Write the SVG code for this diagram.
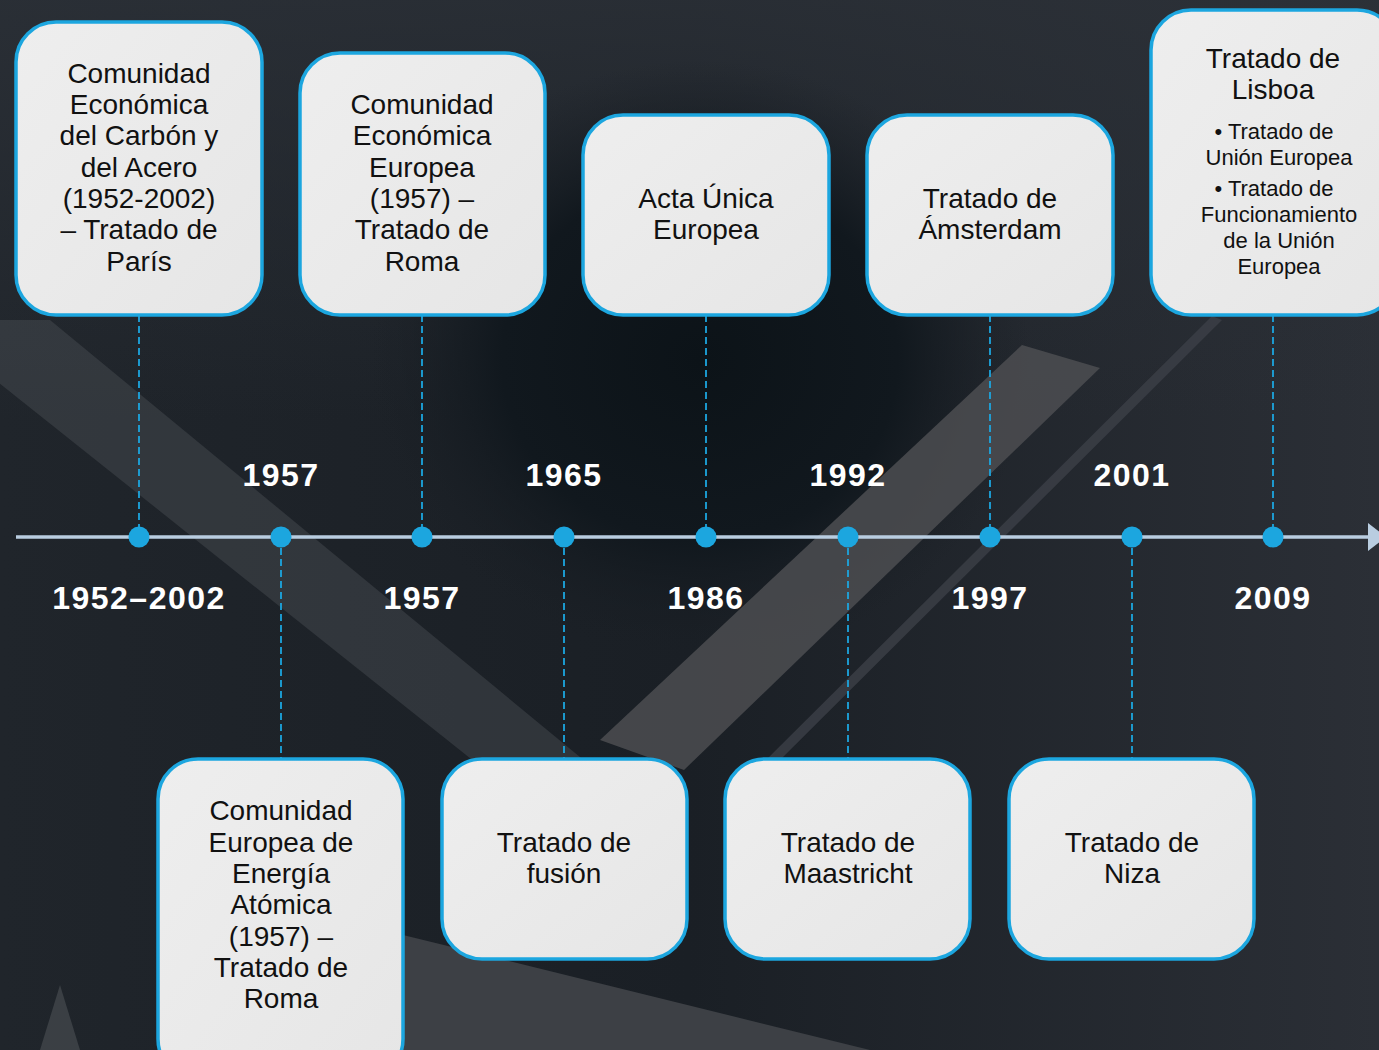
<svg xmlns="http://www.w3.org/2000/svg" width="1379" height="1050" viewBox="0 0 1379 1050">
<defs>
<linearGradient id="bg" x1="0" y1="0" x2="1" y2="0">
<stop offset="0" stop-color="#20252b"/>
<stop offset="0.5" stop-color="#1a1f25"/>
<stop offset="1" stop-color="#2b2f36"/>
</linearGradient>
<linearGradient id="topfade" x1="0" y1="0" x2="0" y2="1">
<stop offset="0" stop-color="#2c3138" stop-opacity="0.8"/>
<stop offset="1" stop-color="#2c3138" stop-opacity="0"/>
</linearGradient>
<radialGradient id="head" cx="0.5" cy="0.5" r="0.5">
<stop offset="0" stop-color="#0c1318"/>
<stop offset="0.6" stop-color="#11181e"/>
<stop offset="1" stop-color="#1a1f25" stop-opacity="0"/>
</radialGradient>
<linearGradient id="box" x1="0" y1="0" x2="1" y2="1">
<stop offset="0" stop-color="#eeeeee"/>
<stop offset="1" stop-color="#e6e6e6"/>
</linearGradient>
<style>
.box{fill:url(#box);stroke:#1ca6df;stroke-width:3.5}
.t{font-family:"Liberation Sans",Arial,sans-serif;font-size:28px;fill:#111;text-anchor:middle}
.s{font-family:"Liberation Sans",Arial,sans-serif;font-size:22px;fill:#111;text-anchor:middle}
.yr{font-family:"Liberation Sans",Arial,sans-serif;font-size:32px;font-weight:bold;fill:#fff;text-anchor:middle;letter-spacing:1.5px}
.dash{stroke:#1ca6df;stroke-width:1.8;stroke-dasharray:7 4;fill:none}
.dot{fill:#1ca6df}
</style>
</defs>
<g id="background">
<rect width="1379" height="1050" fill="url(#bg)"/>
<rect width="1379" height="420" fill="url(#topfade)"/>
<ellipse cx="700" cy="360" rx="330" ry="300" fill="url(#head)"/>
<polygon points="-80,320 50,320 620,790 510,790" fill="#50545a" opacity="0.4"/>
<polygon points="1022,345 1100,368 684,770 600,740" fill="#4c4e51" opacity="0.85"/>
<polygon points="1212,316 1222,320 770,770 760,766" fill="#3c4047" opacity="0.8"/>
<polygon points="403,935 870,1050 403,1050" fill="#3d4045"/>
<polygon points="40,1050 60,985 80,1050" fill="#55595e" opacity="0.5"/>
</g>
<g id="connectors">
<line x1="16" y1="537" x2="1370" y2="537" stroke="#b9cde0" stroke-width="3.4"/>
<polygon points="1368,523 1386,537 1368,551" fill="#b9cde0"/>
<line class="dash" x1="139" y1="315" x2="139" y2="537"/>
<line class="dash" x1="422" y1="315" x2="422" y2="537"/>
<line class="dash" x1="706" y1="315" x2="706" y2="537"/>
<line class="dash" x1="990" y1="315" x2="990" y2="537"/>
<line class="dash" x1="1273" y1="315" x2="1273" y2="537"/>
<line class="dash" x1="281" y1="537" x2="281" y2="759"/>
<line class="dash" x1="564" y1="537" x2="564" y2="759"/>
<line class="dash" x1="848" y1="537" x2="848" y2="759"/>
<line class="dash" x1="1132" y1="537" x2="1132" y2="759"/>
<circle class="dot" cx="139" cy="537" r="10.5"/>
<circle class="dot" cx="281" cy="537" r="10.5"/>
<circle class="dot" cx="422" cy="537" r="10.5"/>
<circle class="dot" cx="564" cy="537" r="10.5"/>
<circle class="dot" cx="706" cy="537" r="10.5"/>
<circle class="dot" cx="848" cy="537" r="10.5"/>
<circle class="dot" cx="990" cy="537" r="10.5"/>
<circle class="dot" cx="1132" cy="537" r="10.5"/>
<circle class="dot" cx="1273" cy="537" r="10.5"/>
</g>
<g id="years">
<text class="yr" x="281" y="486">1957</text>
<text class="yr" x="564" y="486">1965</text>
<text class="yr" x="848" y="486">1992</text>
<text class="yr" x="1132" y="486">2001</text>
<text class="yr" x="139" y="609">1952–2002</text>
<text class="yr" x="422" y="609">1957</text>
<text class="yr" x="706" y="609">1986</text>
<text class="yr" x="990" y="609">1997</text>
<text class="yr" x="1273" y="609">2009</text>
</g>
<g id="node-ceca">
<rect class="box" x="16" y="22" width="246" height="293" rx="40"/>
<text class="t" x="139" y="83">Comunidad</text>
<text class="t" x="139" y="114">Económica</text>
<text class="t" x="139" y="145">del Carbón y</text>
<text class="t" x="139" y="177">del Acero</text>
<text class="t" x="139" y="208">(1952-2002)</text>
<text class="t" x="139" y="239">– Tratado de</text>
<text class="t" x="139" y="271">París</text>
</g>
<g id="node-cee">
<rect class="box" x="300" y="53" width="245" height="262" rx="40"/>
<text class="t" x="422" y="114">Comunidad</text>
<text class="t" x="422" y="145">Económica</text>
<text class="t" x="422" y="177">Europea</text>
<text class="t" x="422" y="208">(1957) –</text>
<text class="t" x="422" y="239">Tratado de</text>
<text class="t" x="422" y="271">Roma</text>
</g>
<g id="node-acta">
<rect class="box" x="583" y="115" width="246" height="200" rx="40"/>
<text class="t" x="706" y="208">Acta Única</text>
<text class="t" x="706" y="239">Europea</text>
</g>
<g id="node-amsterdam">
<rect class="box" x="867" y="115" width="246" height="200" rx="40"/>
<text class="t" x="990" y="208">Tratado de</text>
<text class="t" x="990" y="239">Ámsterdam</text>
</g>
<g id="node-lisboa">
<rect class="box" x="1151" y="10" width="246" height="305" rx="40"/>
<text class="t" x="1273" y="68">Tratado de</text>
<text class="t" x="1273" y="99">Lisboa</text>
<text class="s" x="1274" y="139">• Tratado de</text>
<text class="s" x="1279" y="165">Unión Europea</text>
<text class="s" x="1274" y="196">• Tratado de</text>
<text class="s" x="1279" y="222">Funcionamiento</text>
<text class="s" x="1279" y="248">de la Unión</text>
<text class="s" x="1279" y="274">Europea</text>
</g>
<g id="node-ceea">
<rect class="box" x="158" y="759" width="245" height="320" rx="40"/>
<text class="t" x="281" y="820">Comunidad</text>
<text class="t" x="281" y="852">Europea de</text>
<text class="t" x="281" y="883">Energía</text>
<text class="t" x="281" y="914">Atómica</text>
<text class="t" x="281" y="946">(1957) –</text>
<text class="t" x="281" y="977">Tratado de</text>
<text class="t" x="281" y="1008">Roma</text>
</g>
<g id="node-fusion">
<rect class="box" x="442" y="759" width="245" height="200" rx="40"/>
<text class="t" x="564" y="852">Tratado de</text>
<text class="t" x="564" y="883">fusión</text>
</g>
<g id="node-maastricht">
<rect class="box" x="725" y="759" width="245" height="200" rx="40"/>
<text class="t" x="848" y="852">Tratado de</text>
<text class="t" x="848" y="883">Maastricht</text>
</g>
<g id="node-niza">
<rect class="box" x="1009" y="759" width="245" height="200" rx="40"/>
<text class="t" x="1132" y="852">Tratado de</text>
<text class="t" x="1132" y="883">Niza</text>
</g>
</svg>
